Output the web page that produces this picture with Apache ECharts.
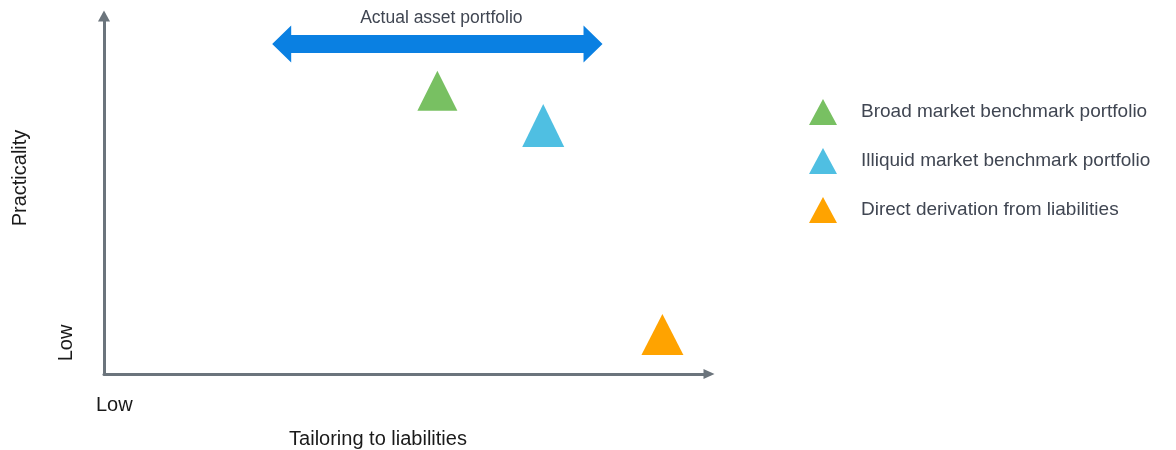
<!DOCTYPE html>
<html>
<head>
<meta charset="utf-8">
<script src="https://cdn.jsdelivr.net/npm/echarts@6/dist/echarts.min.js"></script>
<style>
html,body{margin:0;padding:0;background:#fff;}
#chart{width:1176px;height:450px;}
</style>
</head>
<body>
<div id="chart"></div>
<script>
// ---- data ----
var seriesNames = ['Broad market benchmark portfolio', 'Illiquid market benchmark portfolio', 'Direct derivation from liabilities'];
var broadPoint = [[55.1, 79.1]];
var illiquidPoint = [[72.6, 69.4]];
var directPoint = [[92.3, 11.0]];
var rangeArrow = [[27.8, 82.4, 92.2]]; // [xStart, xEnd, y]
var rangeLabel = 'Actual asset portfolio';
var xTitle = 'Tailoring to liabilities';
var yTitle = 'Practicality';
var lowLabel = 'Low';

var FONT = '"Liberation Sans", Arial, sans-serif';
var AXIS_COLOR = '#6b747c';
var colors = ['#78c062', '#4fbfe2', '#ffa300'];

var chart = echarts.init(document.getElementById('chart'), null, {renderer: 'canvas'});

var option = {
  animation: false,
  backgroundColor: '#fff',
  textStyle: {fontFamily: FONT},
  grid: {left: 104, right: 467, top: 16, bottom: 76, containLabel: false},
  xAxis: {
    type: 'value', min: 0, max: 100,
    axisLine: {show: true, symbol: ['none', 'triangle'], symbolSize: [10, 11],
      lineStyle: {color: AXIS_COLOR, width: 3}},
    axisTick: {show: false}, axisLabel: {show: false}, splitLine: {show: false}
  },
  yAxis: {
    type: 'value', min: 0, max: 100,
    axisLine: {show: true, symbol: ['none', 'triangle'], symbolSize: [12, 11],
      lineStyle: {color: AXIS_COLOR, width: 3}},
    axisTick: {show: false}, axisLabel: {show: false}, splitLine: {show: false}
  },
  legend: {
    orient: 'vertical',
    left: 809, top: 99,
    padding: 0,
    itemWidth: 28, itemHeight: 26, itemGap: 23,
    icon: 'triangle',
    selectedMode: false,
    textStyle: {fontSize: 19, color: '#404652', fontFamily: FONT, padding: [0, 0, 0, 19]},
    data: seriesNames
  },
  graphic: [
    {type: 'text', x: 20, y: 178, rotation: Math.PI / 2,
      style: {text: yTitle, fill: '#1a1a1a', font: '20px ' + FONT, align: 'center', verticalAlign: 'middle'}},
    {type: 'text', x: 66, y: 343, rotation: Math.PI / 2,
      style: {text: lowLabel, fill: '#1a1a1a', font: '20px ' + FONT, align: 'center', verticalAlign: 'middle'}},
    {type: 'text', x: 96, y: 405,
      style: {text: lowLabel, fill: '#1a1a1a', font: '20px ' + FONT, align: 'left', verticalAlign: 'middle'}},
    {type: 'text', x: 378, y: 439,
      style: {text: xTitle, fill: '#1a1a1a', font: '20px ' + FONT, align: 'center', verticalAlign: 'middle'}}
  ],
  series: [
    {name: seriesNames[0], type: 'scatter', symbol: 'triangle', symbolSize: [40, 40],
      itemStyle: {color: colors[0], opacity: 1}, data: broadPoint},
    {name: seriesNames[1], type: 'scatter', symbol: 'triangle', symbolSize: [42, 43],
      itemStyle: {color: colors[1], opacity: 1}, data: illiquidPoint},
    {name: seriesNames[2], type: 'scatter', symbol: 'triangle', symbolSize: [42, 41],
      itemStyle: {color: colors[2], opacity: 1}, data: directPoint},
    {
      type: 'custom',
      silent: true,
      encode: {x: [0, 1], y: 2},
      data: rangeArrow,
      renderItem: function (params, api) {
        var p1 = api.coord([api.value(0), api.value(2)]);
        var p2 = api.coord([api.value(1), api.value(2)]);
        var y = p1[1], x1 = p1[0], x2 = p2[0];
        var hw = 19, hh = 18.5, sh = 9;
        var pts = [
          [x1, y], [x1 + hw, y - hh], [x1 + hw, y - sh], [x2 - hw, y - sh], [x2 - hw, y - hh],
          [x2, y], [x2 - hw, y + hh], [x2 - hw, y + sh], [x1 + hw, y + sh], [x1 + hw, y + hh]
        ];
        return {
          type: 'group',
          children: [
            {type: 'polygon', shape: {points: pts}, style: {fill: '#0a80e2'}},
            {type: 'text', x: (x1 + x2) / 2 + 4, y: y - 26,
              style: {text: rangeLabel, font: '17.5px ' + FONT, fill: '#404652', align: 'center', verticalAlign: 'middle'}}
          ]
        };
      }
    }
  ]
};
chart.setOption(option);
</script>
</body>
</html>
